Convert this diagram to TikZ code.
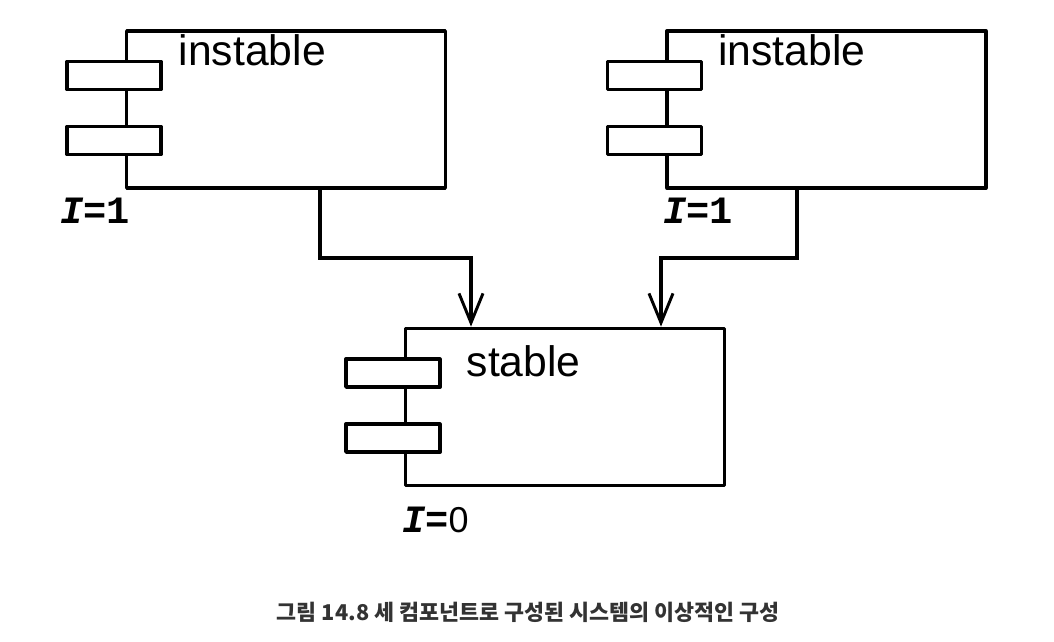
\documentclass[tikz,border=0pt]{standalone}
\usepackage{fontspec}
\setmainfont{Liberation Sans}
\newfontfamily\monofnt{Liberation Mono}
\newfontfamily\cjk{Noto Sans CJK KR}
\usetikzlibrary{arrows.meta}
\tikzset{
  comp_box/.style = {rectangle, draw=black, line width=2.6pt, line join=round,
    inner sep=0pt, minimum width=239pt, minimum height=118pt},% composant, boite
  comp_port/.style = {rectangle, draw=black, fill=white, line width=2.6pt,
    line join=round, inner sep=0pt, minimum width=70.5pt,
    minimum height=21pt},% composant, port
  comp_name/.style = {anchor=base west, inner sep=0pt,
    font=\fontsize{32}{36}\selectfont},% nom du composant
  comp_idx/.style = {anchor=base west, inner sep=0pt,
    font=\monofnt\bfseries\fontsize{29}{32}\selectfont},% instabilite I
  dep/.style = {draw=black, line width=2.6pt,
    -{Straight Barb[length=22pt, width=18pt, line width=2.2pt]}}% dependance
}

\begin{document}
\begin{tikzpicture}[x=0.75pt, y=-0.75pt]
\useasboundingbox (0,0) rectangle (1054,642);
% composants
\foreach \nm/\cx/\cy in {instA/286/109.5, instB/826.5/109.5, stab/565/407}{
  \node [comp_box] (\nm) at (\cx,\cy) {};
  \node [comp_port] (\nm_p1) at ([shift={(-11,46.5)}]\nm.north west) {};
  \node [comp_port] (\nm_p2) at ([shift={(-11,111.5)}]\nm.north west) {};
}
\node [comp_name] (nameA) at ([shift={(53.5,36)}]instA.north west) {instable};
\node [comp_name] (nameB) at ([shift={(52.5,36)}]instB.north west) {instable};
\node [comp_name] (nameS) at ([shift={(62.5,50)}]stab.north west) {stable};
% instabilite
\node [comp_idx] (idxA) at (60,223) {\itshape I\upshape=1};
\node [comp_idx] (idxB) at (663,223) {\itshape I\upshape=1};
\node [comp_idx] (idxS) at (402,532) {\itshape I\upshape=\rmfamily\mdseries\fontsize{27}{30}\selectfont 0};
% dependances
\coordinate (jA) at (471,258);
\coordinate (jB) at (661,258);
\draw [dep] ([shift={(34,0)}]instA.south) |- (jA) -- (jA |- stab.north);
\draw [dep] ([shift={(-29.5,0)}]instB.south) |- (jB) -- (jB |- stab.north);
% legende
\node [font=\cjk\bfseries\fontsize{16.3}{19}\selectfont, text=black!80] (cap) at (528,612)
  {그림 14.8 세 컴포넌트로 구성된 시스템의 이상적인 구성};
\end{tikzpicture}
\end{document}
